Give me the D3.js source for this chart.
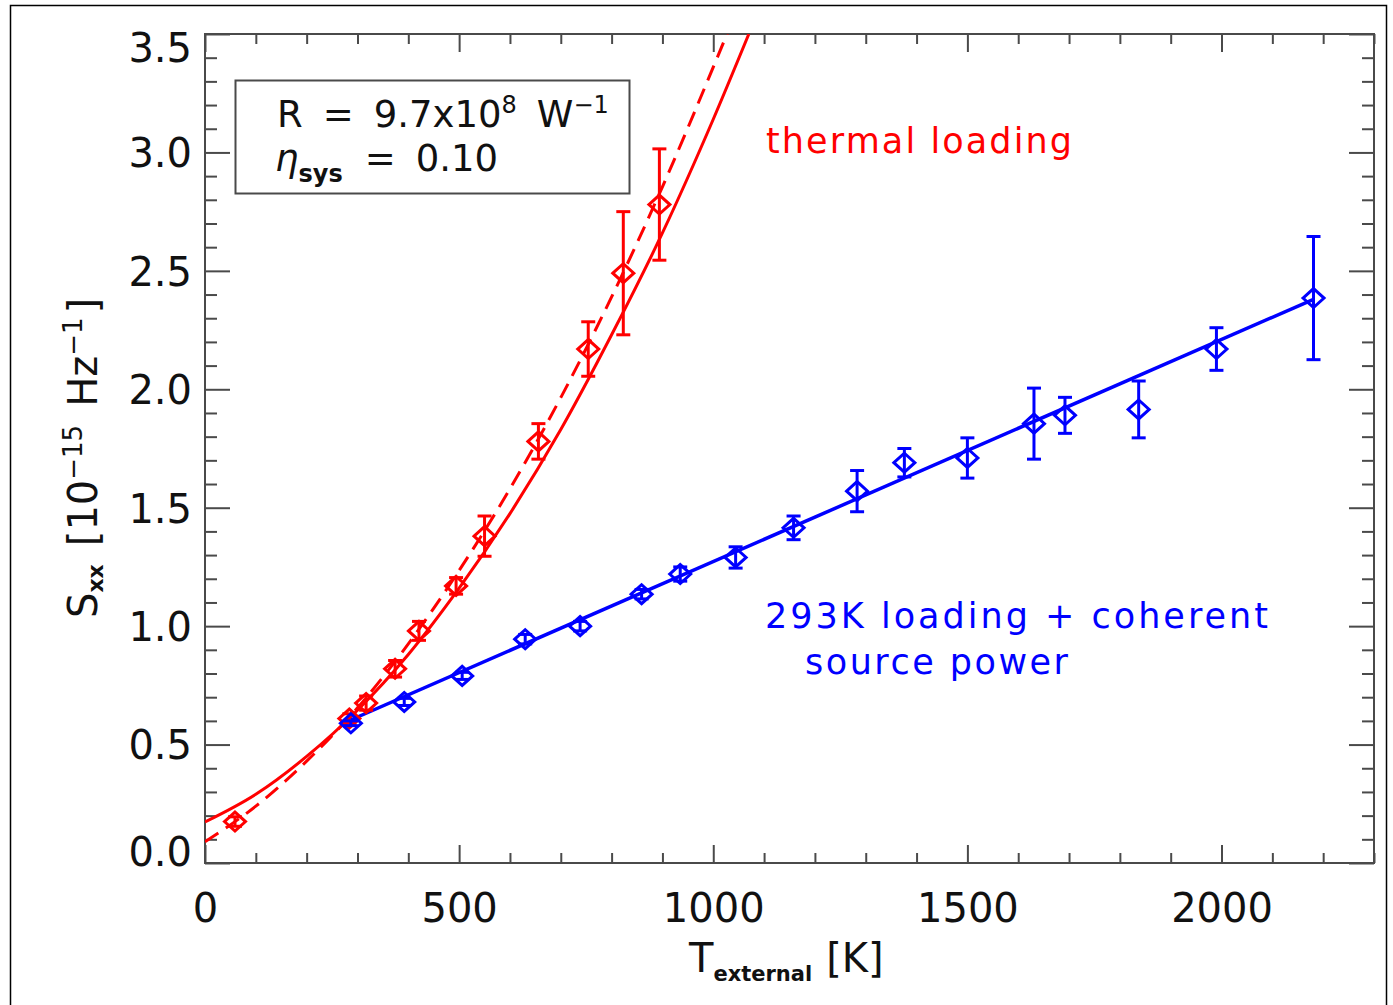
<!DOCTYPE html>
<html>
<head>
<meta charset="utf-8">
<script src="https://cdn.jsdelivr.net/npm/d3@7"></script>
<style>
  body { margin: 0; background: #fff; }
  svg { font-family: "DejaVu Sans", sans-serif; }
</style>
</head>
<body>
<div id="chart"></div>
<script>
const width = 1393;
const height = 1005;

// measured points, thermal loading (red)
const redT = [59, 284, 317, 374, 421, 494, 550, 656, 754, 823, 894];
const redS = [0.175, 0.61, 0.675, 0.82, 0.98, 1.17, 1.38, 1.78, 2.17, 2.49, 2.78];
const redErr = [0.02, 0.02, 0.03, 0.035, 0.04, 0.035, 0.085, 0.075, 0.115, 0.26, 0.235];

// measured points, 293K loading + coherent source (blue)
const blueT = [287, 392, 506, 630, 738, 859, 935, 1044, 1158, 1283, 1376, 1500, 1631, 1692, 1837, 1990, 2181];
const blueS = [0.59, 0.68, 0.79, 0.945, 1.0, 1.135, 1.22, 1.29, 1.415, 1.57, 1.69, 1.71, 1.855, 1.89, 1.915, 2.17, 2.385];
const blueErr = [0.01, 0.015, 0.015, 0.02, 0.02, 0.02, 0.03, 0.045, 0.05, 0.087, 0.06, 0.085, 0.15, 0.076, 0.12, 0.09, 0.26];

// model curves
const fitSolidT = [0, 100, 200, 300, 400, 500, 600, 700, 800, 900, 1000, 1070];
const fitSolidS = [0.173, 0.29, 0.45, 0.645, 0.88, 1.16, 1.475, 1.83, 2.23, 2.66, 3.14, 3.5];
const fitDashT = [0, 100, 200, 300, 400, 500, 600, 700, 800, 900, 1000, 1050];
const fitDashS = [0.09, 0.24, 0.43, 0.655, 0.925, 1.235, 1.58, 1.965, 2.39, 2.855, 3.36, 3.62];
const fitBlueT = [272, 2181];
const fitBlueS = [0.59, 2.38];

const xMajor = [0, 500, 1000, 1500, 2000];
const yMajor = [0, 0.5, 1.0, 1.5, 2.0, 2.5, 3.0, 3.5];

const plot = { left: 205, right: 1374, top: 34, bottom: 863 };

const xScale = d3.scaleLinear().domain([0, 2300]).range([plot.left, plot.right]);
const yScale = d3.scaleLinear().domain([0, 3.5]).range([plot.bottom, plot.top]);

const svg = d3.select("#chart").append("svg").attr("width", width).attr("height", height);

// outer frame
svg.append("rect")
    .attr("x", 10.5).attr("y", 5.5)
    .attr("width", 1376).attr("height", 1020)
    .attr("fill", "none").attr("stroke", "#000").attr("stroke-width", 1.5);

const axisColor = "#4a4a4a";
const xMinor = d3.range(0, 2301, 100).filter(v => v % 500 !== 0);
const yMinor = d3.range(0, 36).map(i => i / 10).filter(v => Math.round(v * 10) % 5 !== 0);

function styleAxis(g) {
    g.select(".domain").remove();
    g.selectAll("line").attr("stroke", axisColor).attr("stroke-width", 2);
    g.selectAll("text").attr("fill", "#111").style("font-size", "40px").style("font-family", "DejaVu Sans, sans-serif");
}

// bottom
svg.append("g").attr("transform", `translate(0,${plot.bottom})`)
    .call(d3.axisBottom(xScale).tickValues(xMinor).tickSize(-10).tickFormat(""))
    .call(styleAxis);
svg.append("g").attr("class", "x-axis").attr("transform", `translate(0,${plot.bottom})`)
    .call(d3.axisBottom(xScale).tickValues(xMajor).tickSize(-18).tickPadding(31).tickFormat(d3.format("d")))
    .call(styleAxis);
// top
svg.append("g").attr("transform", `translate(0,${plot.top})`)
    .call(d3.axisTop(xScale).tickValues(xMinor).tickSize(-10).tickFormat(""))
    .call(styleAxis);
svg.append("g").attr("transform", `translate(0,${plot.top})`)
    .call(d3.axisTop(xScale).tickValues(xMajor).tickSize(-18).tickFormat(""))
    .call(styleAxis);
// left
svg.append("g").attr("transform", `translate(${plot.left},0)`)
    .call(d3.axisLeft(yScale).tickValues(yMinor).tickSize(-12).tickFormat(""))
    .call(styleAxis);
const yAxisG = svg.append("g").attr("class", "y-axis").attr("transform", `translate(${plot.left},0)`)
    .call(d3.axisLeft(yScale).tickValues(yMajor).tickSize(-25).tickPadding(13).tickFormat(d3.format(".1f")))
    .call(styleAxis);
// keep the end labels inside the frame
yAxisG.selectAll(".tick text").attr("dy", d => d === 3.5 ? "0.68em" : d === 0 ? "0.05em" : "0.36em");
// right
svg.append("g").attr("transform", `translate(${plot.right},0)`)
    .call(d3.axisRight(yScale).tickValues(yMinor).tickSize(-12).tickFormat(""))
    .call(styleAxis);
svg.append("g").attr("transform", `translate(${plot.right},0)`)
    .call(d3.axisRight(yScale).tickValues(yMajor).tickSize(-25).tickFormat(""))
    .call(styleAxis);

svg.append("rect")
    .attr("x", plot.left).attr("y", plot.top)
    .attr("width", plot.right - plot.left).attr("height", plot.bottom - plot.top)
    .attr("fill", "none").attr("stroke", axisColor).attr("stroke-width", 2);

// clip for curves
svg.append("clipPath").attr("id", "clip").append("rect")
    .attr("x", plot.left).attr("y", plot.top)
    .attr("width", plot.right - plot.left).attr("height", plot.bottom - plot.top);

const line = d3.line()
    .x(d => xScale(d[0]))
    .y(d => yScale(d[1]))
    .curve(d3.curveMonotoneX);

const layer = svg.append("g").attr("clip-path", "url(#clip)");

layer.append("path")
    .datum(d3.zip(fitSolidT, fitSolidS))
    .attr("fill", "none").attr("stroke", "#ff0000").attr("stroke-width", 3)
    .attr("d", line);
layer.append("path")
    .datum(d3.zip(fitDashT, fitDashS))
    .attr("fill", "none").attr("stroke", "#ff0000").attr("stroke-width", 3)
    .attr("stroke-dasharray", "16,9")
    .attr("d", line);
layer.append("path")
    .datum(d3.zip(fitBlueT, fitBlueS))
    .attr("fill", "none").attr("stroke", "#0000ff").attr("stroke-width", 3.5)
    .attr("d", line);

function drawPoints(T, S, E, color) {
    const pts = T.map((t, i) => ({ t: t, s: S[i], e: E[i] }));
    const g = layer.append("g").attr("stroke", color).attr("fill", "none").attr("stroke-width", 3);
    const cap = 7;
    pts.forEach(p => {
        const cx = xScale(p.t), cy = yScale(p.s);
        const y0 = yScale(p.s - p.e), y1 = yScale(p.s + p.e);
        g.append("line").attr("x1", cx).attr("x2", cx).attr("y1", y0).attr("y2", y1);
        g.append("line").attr("x1", cx - cap).attr("x2", cx + cap).attr("y1", y0).attr("y2", y0);
        g.append("line").attr("x1", cx - cap).attr("x2", cx + cap).attr("y1", y1).attr("y2", y1);
        g.append("path")
            .attr("d", `M${cx - 10.5},${cy} L${cx},${cy - 9.5} L${cx + 10.5},${cy} L${cx},${cy + 9.5} Z`);
    });
}
drawPoints(redT, redS, redErr, "#ff0000");
drawPoints(blueT, blueS, blueErr, "#0000ff");

// annotation box
svg.append("rect")
    .attr("x", 235.5).attr("y", 80.5).attr("width", 394).attr("height", 113)
    .attr("fill", "#fff").attr("stroke", axisColor).attr("stroke-width", 2);

const t1 = svg.append("text").attr("x", 277).attr("y", 127)
    .attr("fill", "#111").style("font-size", "37px");
t1.append("tspan").text("R");
t1.append("tspan").attr("dx", 20).text("=");
t1.append("tspan").attr("dx", 20).text("9.7x10");
t1.append("tspan").attr("dy", -14).style("font-size", "24px").text("8");
t1.append("tspan").attr("dy", 14).attr("dx", 20).text("W");
t1.append("tspan").attr("dy", -14).style("font-size", "24px").text("\u22121");

const t2 = svg.append("text").attr("x", 275).attr("y", 171)
    .attr("fill", "#111").style("font-size", "37px");
t2.append("tspan").style("font-style", "italic").text("\u03b7");
t2.append("tspan").attr("dy", 11).style("font-size", "24px").style("font-weight", "bold").text("sys");
t2.append("tspan").attr("dy", -11).attr("dx", 22).text("=");
t2.append("tspan").attr("dx", 20).text("0.10");

// curve labels
svg.append("text").attr("x", 766).attr("y", 153)
    .attr("fill", "#ff0000").style("font-size", "35px")
    .attr("textLength", 306).attr("lengthAdjust", "spacing")
    .text("thermal loading");
svg.append("text").attr("x", 765).attr("y", 628)
    .attr("fill", "#0000ff").style("font-size", "35px")
    .attr("textLength", 503).attr("lengthAdjust", "spacing")
    .text("293K loading + coherent");
svg.append("text").attr("x", 805).attr("y", 674)
    .attr("fill", "#0000ff").style("font-size", "35px")
    .attr("textLength", 263).attr("lengthAdjust", "spacing")
    .text("source power");

// axis titles
const xt = svg.append("text").attr("x", 689).attr("y", 972)
    .attr("fill", "#111").style("font-size", "40px");
xt.append("tspan").text("T");
xt.append("tspan").attr("dy", 9).style("font-size", "21px").style("font-weight", "bold").text("external");
xt.append("tspan").attr("dy", -9).attr("dx", 14).text("[K]");

const yt = svg.append("text")
    .attr("transform", "translate(97,618) rotate(-90)")
    .attr("fill", "#111").style("font-size", "40px");
yt.append("tspan").text("S");
yt.append("tspan").attr("dy", 6).style("font-size", "22px").style("font-weight", "bold").text("xx");
yt.append("tspan").attr("dy", -6).attr("dx", 18).text("[10");
yt.append("tspan").attr("dy", -15).style("font-size", "26px").text("\u221215");
yt.append("tspan").attr("dy", 15).attr("dx", 18).text("Hz");
yt.append("tspan").attr("dy", -15).style("font-size", "26px").text("\u22121");
yt.append("tspan").attr("dy", 15).attr("dx", 4).text("]");
</script>
</body>
</html>
